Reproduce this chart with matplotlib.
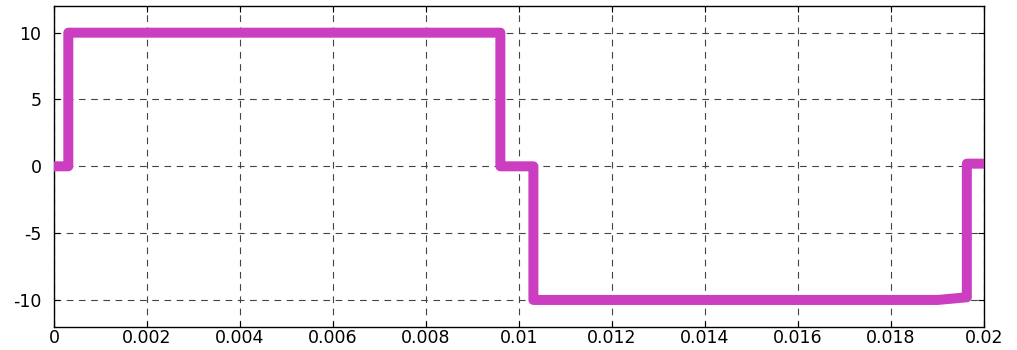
import numpy as np
import matplotlib.pyplot as plt

# inverter phase voltage over one period
t_pts = [0, 0.00031, 0.00031, 0.0096, 0.0096, 0.01031, 0.01031, 0.0190, 0.01963, 0.01963, 0.0200]
v_pts = [0, 0, 10, 10, 0, 0, -10, -10, -9.8, 0.2, 0.2]

xticks = [0, 0.002, 0.004, 0.006, 0.008, 0.01, 0.012, 0.014, 0.016, 0.018, 0.02]
xlabels = ['0', '0.002', '0.004', '0.006', '0.008', '0.01', '0.012', '0.014', '0.016', '0.018', '0.02']
yticks = [-10, -5, 0, 5, 10]

plt.rcParams['font.family'] = ['DejaVu Sans']
plt.rcParams['axes.unicode_minus'] = False

fig = plt.figure(figsize=(10.17, 3.5), dpi=100)
ax = fig.add_axes([0.053, 0.0666, 0.9146, 0.9164])

ax.plot(t_pts, v_pts, color='#cc3ec0', lw=7.2, solid_joinstyle='round', zorder=3)

ax.set_xlim(0, 0.02)
ax.set_ylim(-12, 12)
ax.set_xticks(xticks)
ax.set_xticklabels(xlabels)
ax.set_yticks(yticks)
ax.grid(True, color='#444444', ls=(0, (6, 5)), lw=0.8)
ax.tick_params(direction='in', length=4, top=True, right=True, labelsize=12.5)
ax.tick_params(axis='x', pad=2)
ax.tick_params(axis='y', pad=9)
for s in ax.spines.values():
    s.set_linewidth(1.0)

fig.savefig('out.png', dpi=100)
